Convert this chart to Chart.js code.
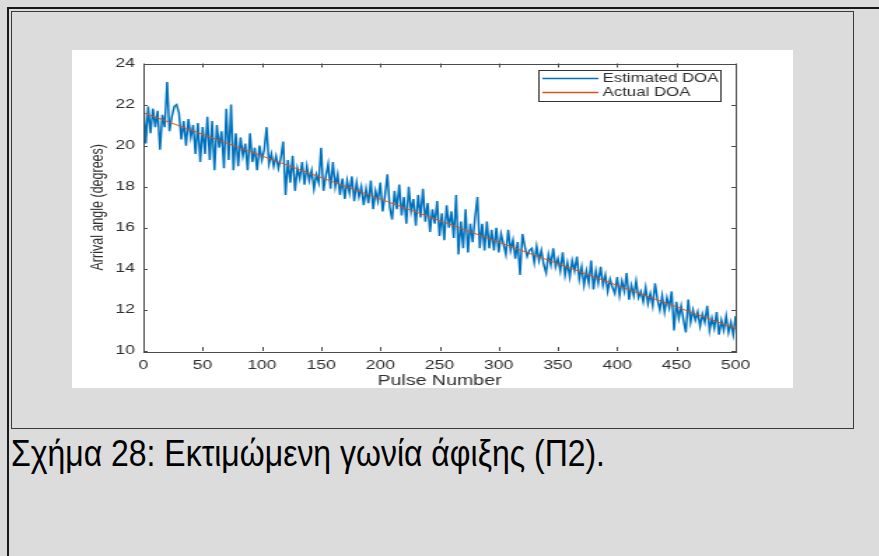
<!DOCTYPE html>
<html>
<head>
<meta charset="utf-8">
<script src="https://cdn.jsdelivr.net/npm/chart.js@4.4.0/dist/chart.umd.min.js"></script>
<style>
    body { margin: 0; background: #dcdcdc; width: 879px; height: 556px; overflow: hidden; position: relative; font-family: "Liberation Sans", Arial, sans-serif; }
    #lineTop { position: absolute; left: 7px; top: 7px; width: 872px; height: 2px; background: #1a1a1a; }
    #lineLeft { position: absolute; left: 7px; top: 7px; width: 2px; height: 549px; background: #1a1a1a; }
    #box { position: absolute; left: 11px; top: 11px; width: 841px; height: 416px; border: 1px solid #3a3a3a; }
    #panel { position: absolute; left: 72px; top: 50px; width: 721px; height: 338px; background: #fff; overflow: hidden; }
    #stretch { width: 515px; height: 338px; transform: scaleX(1.4); transform-origin: 0 0; }
    #caption { position: absolute; left: 11px; top: 436px; font-size: 36px; line-height: 36px; color: #000; white-space: nowrap; transform-origin: 0 0; }
</style>
</head>
<body>
<div id="lineTop"></div>
<div id="lineLeft"></div>
<div id="box"></div>
<div id="panel"><div id="stretch"><canvas id="doaChart" width="515" height="338"></canvas></div></div>
<div id="caption">Σχήμα 28: Εκτιμώμενη γωνία άφιξης (Π2).</div>
<script>
var PULSE_STEP = 2;

var estimatedDoa = [
    22.2, 20.1, 21.9, 20.6, 21.8,
    20.9, 21.7, 19.8, 21.5, 20.9,
    23.1, 20.7, 21.4, 21.9, 22.0,
    21.6, 20.3, 21.2, 20.0, 21.3,
    20.4, 21.0, 19.6, 21.1, 19.2,
    20.9, 19.6, 21.4, 19.3, 21.2,
    18.8, 21.0, 19.9, 20.7, 18.9,
    21.8, 19.3, 22.0, 18.8, 20.6,
    19.0, 20.4, 19.5, 20.1, 18.8,
    20.6, 19.2, 19.9, 18.8, 20.0,
    19.3, 19.8, 20.9, 19.1, 19.6,
    19.0, 19.5, 18.9, 19.4, 20.2,
    17.6, 19.3, 18.2, 19.5, 17.8,
    18.9, 18.4, 19.2, 18.1, 19.0,
    18.3, 18.8, 17.9, 18.6, 18.2,
    19.9, 17.8, 18.5, 19.1, 17.9,
    19.2, 18.0, 18.6, 17.6, 18.4,
    17.4, 18.3, 17.7, 18.5, 17.3,
    18.2, 17.5, 18.0, 17.1, 17.9,
    17.2, 18.3, 16.9, 17.8, 17.3,
    18.2, 16.8, 17.6, 18.6, 17.0,
    16.4, 17.8, 16.9, 18.1, 16.6,
    17.5, 16.2, 18.0, 16.8, 17.4,
    16.1, 17.6, 16.5, 17.9, 16.3,
    17.2, 15.8, 16.9, 16.2, 17.3,
    15.6, 16.7, 15.4, 17.1, 16.0,
    16.8, 15.5, 17.6, 14.7, 16.3,
    15.0, 16.9, 14.8, 16.2, 15.3,
    16.5, 17.5, 15.0, 16.2, 14.9,
    16.3, 15.0, 15.9, 14.9, 16.0,
    14.8, 15.7, 15.2, 14.7, 15.9,
    14.9, 15.4, 14.5, 15.3, 13.7,
    15.7, 15.1, 14.6, 14.9, 15.0,
    14.3, 15.1, 14.4, 14.9, 14.2,
    13.8, 14.7, 14.2, 15.0, 14.1,
    14.5, 13.9, 14.8, 13.7, 14.3,
    13.6, 14.4, 13.9, 14.6, 13.5,
    14.1, 13.2, 13.9, 13.3, 14.4,
    13.0, 13.9, 13.3, 14.1, 13.2,
    13.7, 12.9, 13.5, 13.1, 12.8,
    13.6, 12.7, 13.4, 12.9, 13.8,
    12.5, 13.2, 12.7, 13.4, 12.6,
    12.9, 12.4, 13.1, 12.3, 12.8,
    12.2, 13.3, 12.5, 12.0, 12.7,
    11.9, 12.6, 12.1, 12.9, 11.0,
    12.4, 11.6, 12.2, 11.5, 10.9,
    12.5, 11.4, 12.0, 11.5, 11.9,
    11.2, 11.8, 11.4, 12.2, 11.0,
    11.6, 11.1, 11.9, 10.8, 11.5,
    11.0, 11.7, 10.9, 11.4, 10.8,
    11.7
];

var actualPulse = [0, 500];
var actualDoa = [21.6, 11.1];

var xTicks = [0, 50, 100, 150, 200, 250, 300, 350, 400, 450, 500];
var yTicks = [10, 12, 14, 16, 18, 20, 22, 24];

var seriesNames = ['Estimated DOA', 'Actual DOA'];
var seriesColors = ['#0072BD', '#D95319'];

var axisColor = '#4a4a4a';
var textColor = '#2e2e2e';

var estimatedPoints = estimatedDoa.map(function (v, i) { return { x: i * PULSE_STEP, y: v }; });
var actualPoints = actualDoa.map(function (v, i) { return { x: actualPulse[i], y: v }; });

// box round the axes, with matlab style ticks pointing inward
var framePlugin = {
    id: 'frame',
    afterDatasetsDraw: function (chart) {
        var ctx = chart.ctx;
        var a = chart.chartArea;
        var xs = chart.scales.x;
        var ys = chart.scales.y;
        var len = 4;
        ctx.save();
        ctx.strokeStyle = axisColor;
        ctx.lineWidth = 1;
        ctx.strokeRect(Math.round(a.left) + 0.5, Math.round(a.top) + 0.5, Math.round(a.right - a.left), Math.round(a.bottom - a.top));
        ctx.beginPath();
        xTicks.forEach(function (t) {
            var px = Math.round(xs.getPixelForValue(t)) + 0.5;
            ctx.moveTo(px, a.bottom); ctx.lineTo(px, a.bottom - len);
            ctx.moveTo(px, a.top); ctx.lineTo(px, a.top + len);
        });
        yTicks.forEach(function (t) {
            var py = Math.round(ys.getPixelForValue(t)) + 0.5;
            ctx.moveTo(a.left, py); ctx.lineTo(a.left + 3, py);
            ctx.moveTo(a.right, py); ctx.lineTo(a.right - 3, py);
        });
        ctx.stroke();
        ctx.restore();
    }
};

var legendPlugin = {
    id: 'boxLegend',
    afterDraw: function (chart) {
        var ctx = chart.ctx;
        var left = 333, top = 20, w = 130, h = 31;
        ctx.save();
        ctx.fillStyle = '#ffffff';
        ctx.fillRect(left, top, w, h);
        ctx.strokeStyle = '#333333';
        ctx.lineWidth = 1;
        ctx.strokeRect(left + 0.5, top + 0.5, w, h);
        ctx.font = '12px "Liberation Sans", Arial, sans-serif';
        ctx.textBaseline = 'middle';
        seriesNames.forEach(function (name, i) {
            var yy = top + 8.5 + i * 14;
            ctx.strokeStyle = seriesColors[i];
            ctx.lineWidth = 1.5;
            ctx.beginPath();
            ctx.moveTo(left + 3, yy);
            ctx.lineTo(left + 43, yy);
            ctx.stroke();
            ctx.fillStyle = textColor;
            ctx.fillText(name, left + 46, yy);
        });
        ctx.restore();
    }
};

var ctx = document.getElementById('doaChart').getContext('2d');
var myChart = new Chart(ctx, {
    type: 'line',
    data: {
        datasets: [{
            label: seriesNames[0],
            data: estimatedPoints,
            borderColor: seriesColors[0],
            borderWidth: 1.5,
            pointRadius: 0,
            tension: 0,
            order: 1
        }, {
            label: seriesNames[1],
            data: actualPoints,
            borderColor: seriesColors[1],
            borderWidth: 1,
            pointRadius: 0,
            tension: 0,
            order: 0
        }]
    },
    options: {
        responsive: false,
        animation: false,
        layout: { padding: { top: 11, right: 41, left: 0, bottom: 0 } },
        plugins: {
            legend: { display: false },
            tooltip: { enabled: false }
        },
        scales: {
            x: {
                type: 'linear',
                min: 0,
                max: 500,
                afterFit: function (s) { s.height = 37; },
                afterBuildTicks: function (s) { s.ticks = xTicks.map(function (v) { return { value: v }; }); },
                grid: { display: false, drawTicks: false },
                border: { display: false },
                ticks: { color: textColor, font: { size: 12.5, family: '"Liberation Sans", Arial' }, padding: 7, maxRotation: 0 },
                title: { display: true, text: 'Pulse Number', color: textColor, font: { size: 14, lineHeight: 1, family: '"Liberation Sans", Arial' }, padding: 0 }
            },
            y: {
                min: 10,
                max: 24,
                afterFit: function (s) { s.width = 51; },
                afterBuildTicks: function (s) { s.ticks = yTicks.map(function (v) { return { value: v }; }); },
                grid: { display: false, drawTicks: false },
                border: { display: false },
                ticks: { color: textColor, font: { size: 12.5, family: '"Liberation Sans", Arial' }, padding: 6 },
                title: { display: true, text: 'Arrival angle (degrees)', color: textColor, font: { size: 12.5, family: '"Liberation Sans", Arial' }, padding: { top: 11, bottom: 0 } }
            }
        }
    },
    plugins: [framePlugin, legendPlugin]
});

// the caption in the source is a narrowed font
var cap = document.getElementById('caption');
var capWidth = cap.getBoundingClientRect().width;
cap.style.transform = 'scaleX(' + (594 / capWidth) + ')';
</script>
</body>
</html>
